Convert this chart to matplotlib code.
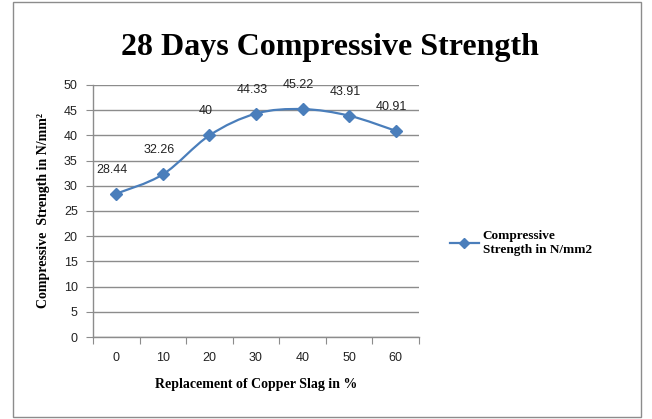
import numpy as np
import matplotlib.pyplot as plt
from matplotlib.path import Path
from matplotlib.patches import PathPatch, Rectangle
from matplotlib.lines import Line2D

# Data
categories = ["0", "10", "20", "30", "40", "50", "60"]
strength = [28.44, 32.26, 40.0, 44.33, 45.22, 43.91, 40.91]
point_labels = ["28.44", "32.26", "40", "44.33", "45.22", "43.91", "40.91"]
y_ticks = [0, 5, 10, 15, 20, 25, 30, 35, 40, 45, 50]

BLUE = "#4a7ebb"
GRID = "#8c8c8c"
SERIF = "Liberation Serif"
SANS = "Liberation Sans"


def smooth_path(xs, ys, tension=1 / 6):
    """Catmull-Rom style cubic bezier path through the points (like Excel's smoothed line)"""
    pts = np.column_stack([xs, ys])
    verts = [pts[0]]
    codes = [Path.MOVETO]
    for i in range(len(pts) - 1):
        p0 = pts[i - 1] if i > 0 else pts[i]
        p1 = pts[i]
        p2 = pts[i + 1]
        p3 = pts[i + 2] if i + 2 < len(pts) else pts[i + 1]
        c1 = p1 + (p2 - p0) * tension
        c2 = p2 - (p3 - p1) * tension
        verts += [c1, c2, p2]
        codes += [Path.CURVE4] * 3
    return Path(verts, codes)


def main():
    fig = plt.figure(figsize=(6.52, 4.19), dpi=100)
    fig.patch.set_facecolor("white")

    # outer chart border
    fig.patches.append(Rectangle((13 / 652, 2 / 419), 628 / 652, 415 / 419, transform=fig.transFigure,
                                 fill=False, edgecolor="#8c8c8c", linewidth=1.0))

    ax = fig.add_axes([93 / 652, 82 / 419, 326 / 652, 252 / 419])
    x = np.arange(len(categories))

    ax.add_patch(PathPatch(smooth_path(x, strength), facecolor="none", edgecolor=BLUE, linewidth=1.6))
    ax.plot(x, strength, linestyle="none", marker="D", markersize=6.5, color=BLUE)

    for xi, yi, lab in zip(x, strength, point_labels):
        ax.annotate(lab, (xi, yi), xytext=(-3, 13), textcoords="offset points", ha="center", va="bottom",
                    fontsize=9, family=SANS, color="#222222")

    ax.set_xlim(-0.5, len(categories) - 0.5)
    ax.set_ylim(0, 50)
    ax.set_yticks(y_ticks)
    ax.set_yticklabels([str(t) for t in y_ticks], fontsize=9, family=SANS, color="#222222")
    ax.yaxis.grid(True, color=GRID, linewidth=1.0)
    ax.set_axisbelow(True)

    # category ticks between categories, labels centred
    ax.set_xticks(np.arange(-0.5, len(categories), 1.0))
    ax.set_xticklabels([])
    ax.set_xticks(x, minor=True)
    ax.set_xticklabels(categories, minor=True, fontsize=9, family=SANS, color="#222222")
    ax.tick_params(axis="x", which="major", length=5, color=GRID, direction="out")
    ax.tick_params(axis="x", which="minor", length=0, pad=11)
    ax.tick_params(axis="y", length=5, color=GRID, direction="out", pad=6)

    for side in ["top", "right"]:
        ax.spines[side].set_visible(False)
    for side in ["left", "bottom"]:
        ax.spines[side].set_color(GRID)
        ax.spines[side].set_linewidth(1.0)

    ax.set_xlabel("Replacement of Copper Slag in %", family=SERIF, fontsize=10, fontweight="bold",
                  labelpad=10)
    ax.set_ylabel("Compressive  Strength in N/mm²", family=SERIF, fontsize=10, fontweight="bold",
                  labelpad=10)

    fig.text(330 / 652, 1 - 47 / 419, "28 Days Compressive Strength", ha="center", va="center",
             family=SERIF, fontsize=23, fontweight="bold")

    handle = Line2D([], [], color=BLUE, marker="D", markersize=5.5, linewidth=1.6)
    fig.legend([handle], ["Compressive\nStrength in N/mm2"], loc="center left",
               bbox_to_anchor=(438 / 652, 1 - 243 / 419), frameon=False, handlelength=2.2,
               handletextpad=0.3, prop={"family": SERIF, "size": 9.5, "weight": "bold"})

    fig.savefig("out.png", dpi=100)


if __name__ == "__main__":
    main()
